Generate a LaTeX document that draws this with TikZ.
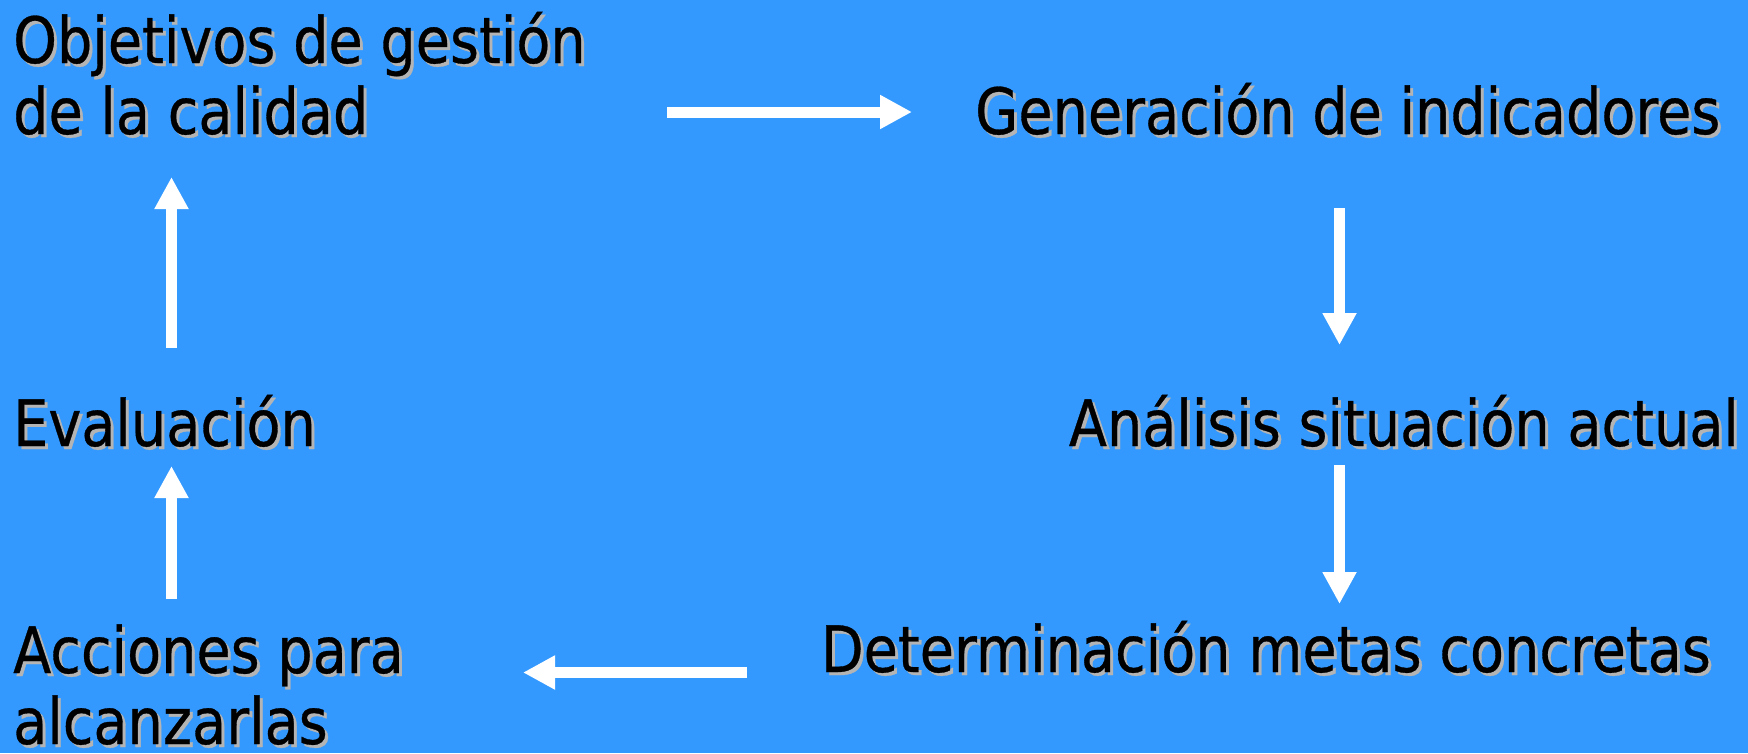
\documentclass[tikz,border=0pt]{standalone}
\usepackage{fontspec}
\setmainfont{DejaVu Sans}[FakeStretch=0.87, FakeBold=0.5]
\usetikzlibrary{arrows.meta}
\definecolor{bg}{HTML}{3399FF}
\definecolor{shade}{HTML}{B4B4B4}
% text with a grey drop shadow offset down and to the right
\newcommand{\shadowed}[1]{\makebox[0pt][l]{\hspace{3pt}\raisebox{-3pt}{\color{shade}#1}}#1}
\begin{document}
\begin{tikzpicture}[x=1pt,y=-1pt,
  caption/.style={inner sep=0pt, text=black, font=\fontsize{64}{71}\selectfont, align=left},
  flow/.style={draw=white, line width=11pt, -{Triangle[width=32pt,length=32pt]}}]
\useasboundingbox (0,0) rectangle (1748,753);
\fill[bg] (0,0) rectangle (1748,753);

% stages of the cycle (multi-line captions are placed by their last baseline)
\node[caption, anchor=base west] (obj) at (13,134) {\shadowed{Objetivos de gestión}\\\shadowed{de la calidad}};
\node[caption, anchor=base west] (gen) at (975,134) {\shadowed{Generación de indicadores}};
\node[caption, anchor=base east] (ana) at (1739,446) {\shadowed{Análisis situación actual}};
\node[caption, anchor=base east] (det) at (1711,672) {\shadowed{Determinación metas concretas}};
\node[caption, anchor=base west] (acc) at (13,744) {\shadowed{Acciones para}\\\shadowed{alcanzarlas}};
\node[caption, anchor=base west] (eva) at (13,446) {\shadowed{Evaluación}};

% arrow end points
\coordinate (a1s) at (667,112);   \coordinate (a1e) at (912,112);
\coordinate (a2s) at (1339.5,208); \coordinate (a2e) at (1339.5,345);
\coordinate (a3s) at (1339.5,465); \coordinate (a3e) at (1339.5,604);
\coordinate (a4s) at (747,672.5); \coordinate (a4e) at (523,672.5);
\coordinate (a5s) at (171.5,599); \coordinate (a5e) at (171.5,466);
\coordinate (a6s) at (171.5,348); \coordinate (a6e) at (171.5,177);

\draw[flow] (a1s) -- (a1e);
\draw[flow] (a2s) -- (a2e);
\draw[flow] (a3s) -- (a3e);
\draw[flow] (a4s) -- (a4e);
\draw[flow] (a5s) -- (a5e);
\draw[flow] (a6s) -- (a6e);
\end{tikzpicture}
\end{document}
